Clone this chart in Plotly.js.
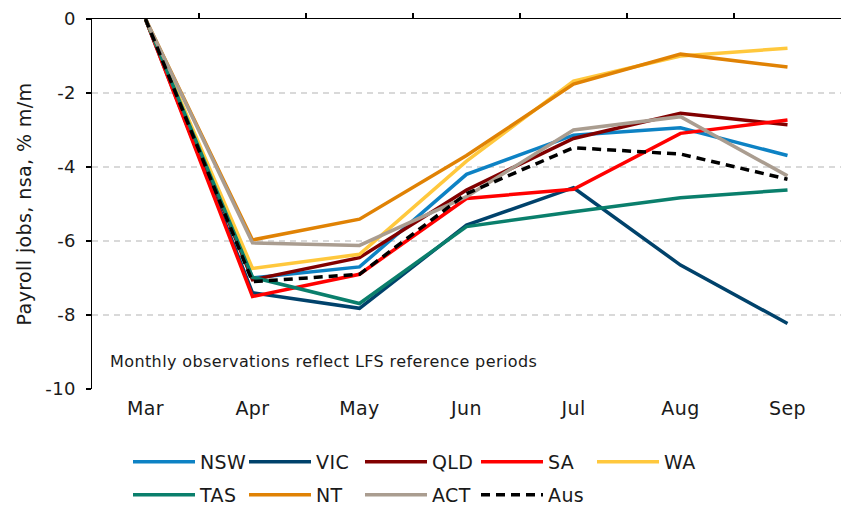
<!DOCTYPE html>
<html>
<head>
<meta charset="utf-8">
<script src="https://cdn.plot.ly/plotly-3.0.1.min.js"></script>
<style>html,body{margin:0;padding:0;background:#fff;}#chart{width:841px;height:506px;}
#chart svg text{letter-spacing:0.4px;}</style>
</head>
<body>
<div id="chart"></div>
<script>
const months = ["Mar", "Apr", "May", "Jun", "Jul", "Aug", "Sep"];
const NSW = [0, -7.0, -6.7, -4.2, -3.14, -2.94, -3.69];
const VIC = [0, -7.4, -7.82, -5.57, -4.56, -6.65, -8.23];
const QLD = [0, -7.05, -6.45, -4.62, -3.23, -2.55, -2.86];
const SA  = [0, -7.5, -6.9, -4.85, -4.6, -3.09, -2.73];
const WA  = [0, -6.74, -6.36, -3.84, -1.68, -1.0, -0.79];
const TAS = [0, -6.98, -7.69, -5.61, -5.21, -4.83, -4.62];
const NT  = [0, -5.97, -5.41, -3.69, -1.76, -0.95, -1.30];
const ACT = [0, -6.05, -6.12, -4.8, -3.0, -2.64, -4.24];
const AUS = [0, -7.1, -6.9, -4.72, -3.48, -3.65, -4.33];
const yTicks = [0, -2, -4, -6, -8, -10];
const note = "Monthly observations reflect LFS reference periods";

const FONT = "DejaVu Sans, Verdana, sans-serif";
const series = [
  {name: "NSW", y: NSW, color: "#0d82c4", legend: "legend"},
  {name: "VIC", y: VIC, color: "#00426b", legend: "legend"},
  {name: "QLD", y: QLD, color: "#820000", legend: "legend"},
  {name: "SA",  y: SA,  color: "#ff0000", legend: "legend"},
  {name: "WA",  y: WA,  color: "#ffc83d", legend: "legend"},
  {name: "TAS", y: TAS, color: "#0a7f6c", legend: "legend2"},
  {name: "NT",  y: NT,  color: "#e08204", legend: "legend2"},
  {name: "ACT", y: ACT, color: "#aa9d90", legend: "legend2"},
];
const traces = series.map(s => ({
  type: "scatter", mode: "lines", x: months, y: s.y, name: s.name,
  line: {color: s.color, width: 3.5}, legend: s.legend
}));
traces.push({type: "scatter", mode: "lines", x: months, y: AUS, name: "Aus",
  line: {color: "#000", width: 3.5, dash: "9px,6px"}, legend: "legend2"});
traces.push({type: "scatter", mode: "lines", x: [], y: [], xaxis: "x2", showlegend: false, hoverinfo: "skip"});

const legendBase = {
  orientation: "h", xref: "container", yref: "container", xanchor: "left", yanchor: "middle",
  entrywidth: 39, entrywidthmode: "pixels", itemwidth: 62,
  font: {family: FONT, size: 19, color: "#1a1a1a"}, bgcolor: "rgba(0,0,0,0)", traceorder: "normal"
};

const layout = {
  width: 841, height: 506,
  margin: {l: 92, r: 0, t: 19, b: 117},
  paper_bgcolor: "#fff", plot_bgcolor: "#fff",
  font: {family: FONT, size: 18, color: "#1a1a1a"},
  xaxis: {
    type: "category", range: [-0.5, 6.5], showline: false, ticks: "", showgrid: false,
    zeroline: false, tickfont: {family: FONT, size: 19, color: "#1a1a1a"}, ticklabelstandoff: 6
  },
  xaxis2: {
    overlaying: "x", side: "top", range: [-0.5, 6.5], tickvals: [0.5, 1.5, 2.5, 3.5, 4.5, 5.5],
    ticks: "outside", ticklen: 5, tickcolor: "#000", tickwidth: 1.3, showline: true,
    linecolor: "#000", linewidth: 1.5, showticklabels: false, showgrid: false, zeroline: false
  },
  yaxis: {
    range: [-10, 0], tickvals: yTicks, ticktext: yTicks.map(String),
    showline: true, linecolor: "#000", linewidth: 1.5, ticks: "outside", ticklen: 5,
    tickcolor: "#000", tickwidth: 1.3, showgrid: true, gridcolor: "#d9d9d9", gridwidth: 1.2,
    griddash: "6px,5px", zeroline: false, ticklabelstandoff: 6,
    tickfont: {family: FONT, size: 18, color: "#1a1a1a"},
    title: {text: "Payroll jobs, nsa, % m/m", font: {family: FONT, size: 19, color: "#1a1a1a"}, standoff: 10}
  },
  legend: Object.assign({}, legendBase, {x: 128/841, y: 1 - 462/506}),
  legend2: Object.assign({}, legendBase, {x: 128/841, y: 1 - 495/506}),
  annotations: [{
    text: note, xref: "paper", yref: "y", x: (118-92)/749, y: -9.27,
    xanchor: "left", yanchor: "middle", showarrow: false,
    font: {family: FONT, size: 16, color: "#1a1a1a"}
  }],
  showlegend: true
};
Plotly.newPlot("chart", traces, layout, {displayModeBar: false, staticPlot: true});
</script>
</body>
</html>
